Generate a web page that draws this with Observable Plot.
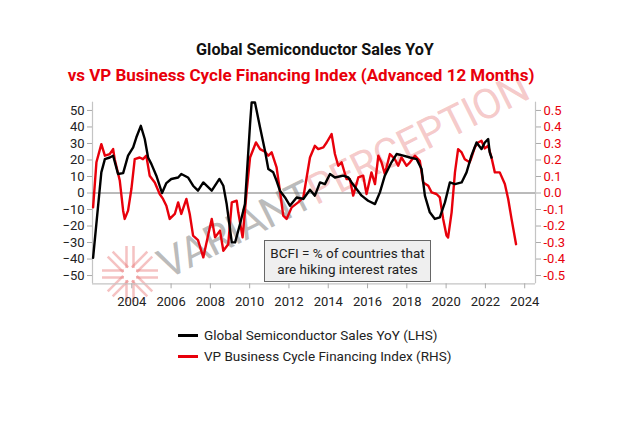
<!DOCTYPE html>
<html>
<head>
<meta charset="utf-8">
<script src="https://cdn.jsdelivr.net/npm/d3@7"></script>
<script src="https://cdn.jsdelivr.net/npm/@observablehq/plot@0.6"></script>
<style>
  html, body { margin: 0; padding: 0; background: #fff; }
  #wrap { position: relative; width: 630px; height: 445px; overflow: hidden; font-family: Roboto, "Noto Sans", sans-serif; }
  .t { position: absolute; left: 0; width: 630px; text-align: center; font-weight: bold; white-space: nowrap; }
  #wm { position: absolute; left: 170px; top: 244px; transform-origin: 0 100%; transform: rotate(-26.5deg);
        font-size: 42px; font-weight: 400; white-space: nowrap; line-height: 42px; letter-spacing: -0.8px; }
  #note { position: absolute; left: 264px; top: 240px; width: 167px; height: 42px; box-sizing: border-box;
          background: #efefef; border: 1px solid #666; text-align: center; font-size: 13.5px; line-height: 16px; color: #222; padding-top: 4px; }
  .leg { position: absolute; left: 178px; font-size: 13.5px; color: #222; white-space: nowrap; }
  .leg span { display: inline-block; width: 20px; height: 3px; vertical-align: middle; margin-right: 6px; position: relative; top: -1px; }
  #chart { position: absolute; left: 0; top: 0; }
</style>
</head>
<body>
<div id="wrap">
  <svg id="logo" width="630" height="445" style="position:absolute;left:0;top:0"></svg>
  <div id="wm"><span style="color:rgba(120,120,120,0.5)">VARIANT</span><span style="color:rgba(225,90,90,0.32)">PERCEPTION</span></div>
  <div id="chart"></div>
  <div class="t" style="top:40px;color:#111;font-size:16.2px">Global Semiconductor Sales YoY</div>
  <div class="t" style="top:65px;left:-14px;color:#e8000b;font-size:17px">vs VP Business Cycle Financing Index (Advanced 12 Months)</div>
  <div id="note">BCFI = % of countries that<br>are hiking interest rates</div>
  <div class="leg" style="top:327px"><span style="background:#000"></span>Global Semiconductor Sales YoY (LHS)</div>
  <div class="leg" style="top:348px"><span style="background:#e8000b"></span>VP Business Cycle Financing Index (RHS)</div>
</div>
<script>
// Global Semiconductor Sales YoY (%), left axis
const semiYear = [2002.03,2002.45,2002.63,2002.88,2003.05,2003.3,2003.56,2003.81,2004.07,2004.23,2004.46,2004.66,2004.83,2005.0,2005.25,2005.54,2005.76,2006.01,2006.36,2006.52,2006.86,2007.12,2007.37,2007.64,2008.07,2008.46,2008.66,2008.83,2009.09,2009.26,2009.51,2009.76,2010.02,2010.1,2010.27,2010.53,2010.78,2010.95,2011.2,2011.37,2011.54,2011.8,2012.05,2012.39,2012.73,2013.07,2013.32,2013.58,2013.83,2014.09,2014.34,2014.76,2015.02,2015.19,2015.44,2015.7,2016.03,2016.38,2016.63,2016.88,2017.22,2017.48,2017.82,2018.16,2018.5,2018.75,2018.92,2019.17,2019.43,2019.68,2019.94,2020.19,2020.45,2020.79,2021.04,2021.29,2021.55,2021.8,2021.97,2022.14,2022.22,2022.31];
const semiYoY = [-39.3,12.5,20.5,21.5,22.6,11.5,12,22.6,27.6,33.6,40.7,32.7,21.5,17.5,10.5,0,6,8.5,9.4,11.5,9.4,4.4,1.4,6.4,1.4,8.5,4.4,-6.7,-29.9,-29.9,-18.8,-6.7,41.7,54.8,54.8,39.7,25.6,14.5,12.5,7.4,1.4,-2.7,-7.7,-2.7,-3.6,2,-1.6,6.4,5.4,11.5,9.4,10.5,9.4,6.4,2.4,-1.6,-4.7,-6.7,0.4,10.5,18.6,23.6,22.6,21.5,20.5,14.5,-1.6,-11.7,-15.7,-14.7,-5.7,6.4,5.4,6.4,12.5,22.6,30.6,26.6,30.6,32.7,24.6,21.5];
// VP Business Cycle Financing Index (advanced 12 months), right axis
const bcfiYear = [2002.03,2002.2,2002.45,2002.63,2002.88,2003.05,2003.13,2003.39,2003.56,2003.64,2003.81,2003.98,2004.15,2004.4,2004.57,2004.74,2004.91,2005.17,2005.42,2005.59,2005.76,2005.93,2006.19,2006.36,2006.52,2006.78,2006.95,2007.12,2007.37,2007.64,2007.9,2008.07,2008.24,2008.49,2008.66,2008.91,2009.09,2009.34,2009.42,2009.64,2009.85,2010.02,2010.32,2010.53,2010.78,2010.95,2011.12,2011.37,2011.54,2011.71,2011.88,2012.14,2012.47,2012.73,2012.9,2013.07,2013.32,2013.49,2013.75,2013.92,2014.17,2014.34,2014.51,2014.68,2014.93,2015.1,2015.27,2015.53,2015.78,2015.95,2016.2,2016.38,2016.55,2016.71,2016.88,2017.14,2017.39,2017.56,2017.73,2017.99,2018.16,2018.41,2018.66,2018.83,2019.09,2019.26,2019.51,2019.68,2019.85,2020.02,2020.1,2020.28,2020.45,2020.61,2020.79,2020.95,2021.2,2021.29,2021.46,2021.63,2021.8,2021.97,2022.14,2022.31,2022.48,2022.73,2022.99,2023.16,2023.33,2023.56];
const bcfi = [-0.087,0.186,0.296,0.226,0.236,0.266,0.205,0.074,-0.107,-0.157,-0.107,0.024,0.205,0.215,0.205,0.226,0.105,0.064,-0.006,-0.036,-0.077,-0.157,-0.127,-0.057,-0.127,-0.036,-0.127,-0.258,-0.285,-0.39,-0.248,-0.157,-0.269,-0.228,-0.35,-0.31,-0.057,-0.047,-0.117,-0.269,0.014,0.215,0.306,0.266,0.25,0.226,0.246,0.155,0.014,-0.137,-0.157,-0.087,-0.057,-0.027,0.094,0.215,0.286,0.266,0.276,0.306,0.357,0.236,0.165,0.186,0.085,0.085,-0.016,0.094,0.105,-0.006,0.125,0.054,0.226,0.186,0.115,0.236,0.205,0.165,0.215,0.165,0.186,0.226,0.195,0.064,0.044,0.004,-0.006,-0.027,-0.157,-0.258,-0.27,-0.117,0.125,0.266,0.246,0.205,0.186,0.215,0.276,0.306,0.316,0.27,0.286,0.215,0.125,0.125,0.054,-0.036,-0.157,-0.31];
const xTicks = [2004,2006,2008,2010,2012,2014,2016,2018,2020,2022,2024];
const leftTicks = [-50,-40,-30,-20,-10,0,10,20,30,40,50];
const rightTicks = [-0.5,-0.4,-0.3,-0.2,-0.1,0.0,0.1,0.2,0.3,0.4,0.5];
const xDomain = [2002, 2024.55];
const yDomain = [-55, 55];

const semi = semiYear.map((x, i) => ({x, v: semiYoY[i]}));
const red = bcfiYear.map((x, i) => ({x, v: bcfi[i]}));
const RIGHT_FACTOR = 100; // right axis value * 100 = left axis units

const plot = Plot.plot({
  width: 630, height: 445,
  marginLeft: 92, marginRight: 95, marginTop: 101.7, marginBottom: 161.7,
  x: {domain: xDomain},
  y: {domain: yDomain},
  style: {fontFamily: "Roboto, 'Noto Sans', sans-serif", fontSize: "12.5px", color: "#333", background: "transparent", overflow: "visible"},
  marks: [
    Plot.ruleX(xDomain, {stroke: "#c4c4c4", strokeWidth: 1.2}),
    Plot.ruleY([yDomain[0]], {stroke: "#c4c4c4", strokeWidth: 1.2}),
    Plot.ruleY([0], {stroke: "#777", strokeWidth: 1}),
    Plot.axisX({ticks: xTicks, tickFormat: "d", tickSize: 5, tickPadding: 8, stroke: "#aaa", fill: "#222", label: null, fontSize: 13}),
    Plot.axisY({anchor: "left", ticks: leftTicks, tickSize: 5, tickPadding: 3, stroke: "#aaa", fill: "#222", label: null, fontSize: 13}),
    Plot.axisY({anchor: "right", ticks: rightTicks.map(d => d * RIGHT_FACTOR), tickFormat: d => (d / RIGHT_FACTOR).toFixed(1), tickSize: 5, tickPadding: 3, stroke: "#aaa", fill: "#e8000b", label: null, fontSize: 13}),
    Plot.line(red, {x: "x", y: d => d.v * RIGHT_FACTOR, stroke: "#e8000b", strokeWidth: 2.4}),
    Plot.line(semi, {x: "x", y: "v", stroke: "#000", strokeWidth: 2.4})
  ]
});
document.getElementById("chart").appendChild(plot);

// watermark starburst logo (decoration)
const logo = d3.select("#logo").append("g").attr("transform", "translate(130,274)").attr("stroke", "rgba(230,110,110,0.42)").attr("stroke-width", 2.5);
for (let k = 0; k < 8; k++) {
  const g = logo.append("g").attr("transform", `rotate(${k * 45})`);
  [-3.5, 3.5].forEach(o => g.append("line").attr("x1", 6).attr("x2", 28).attr("y1", o).attr("y2", o));
}
</script>
</body>
</html>
